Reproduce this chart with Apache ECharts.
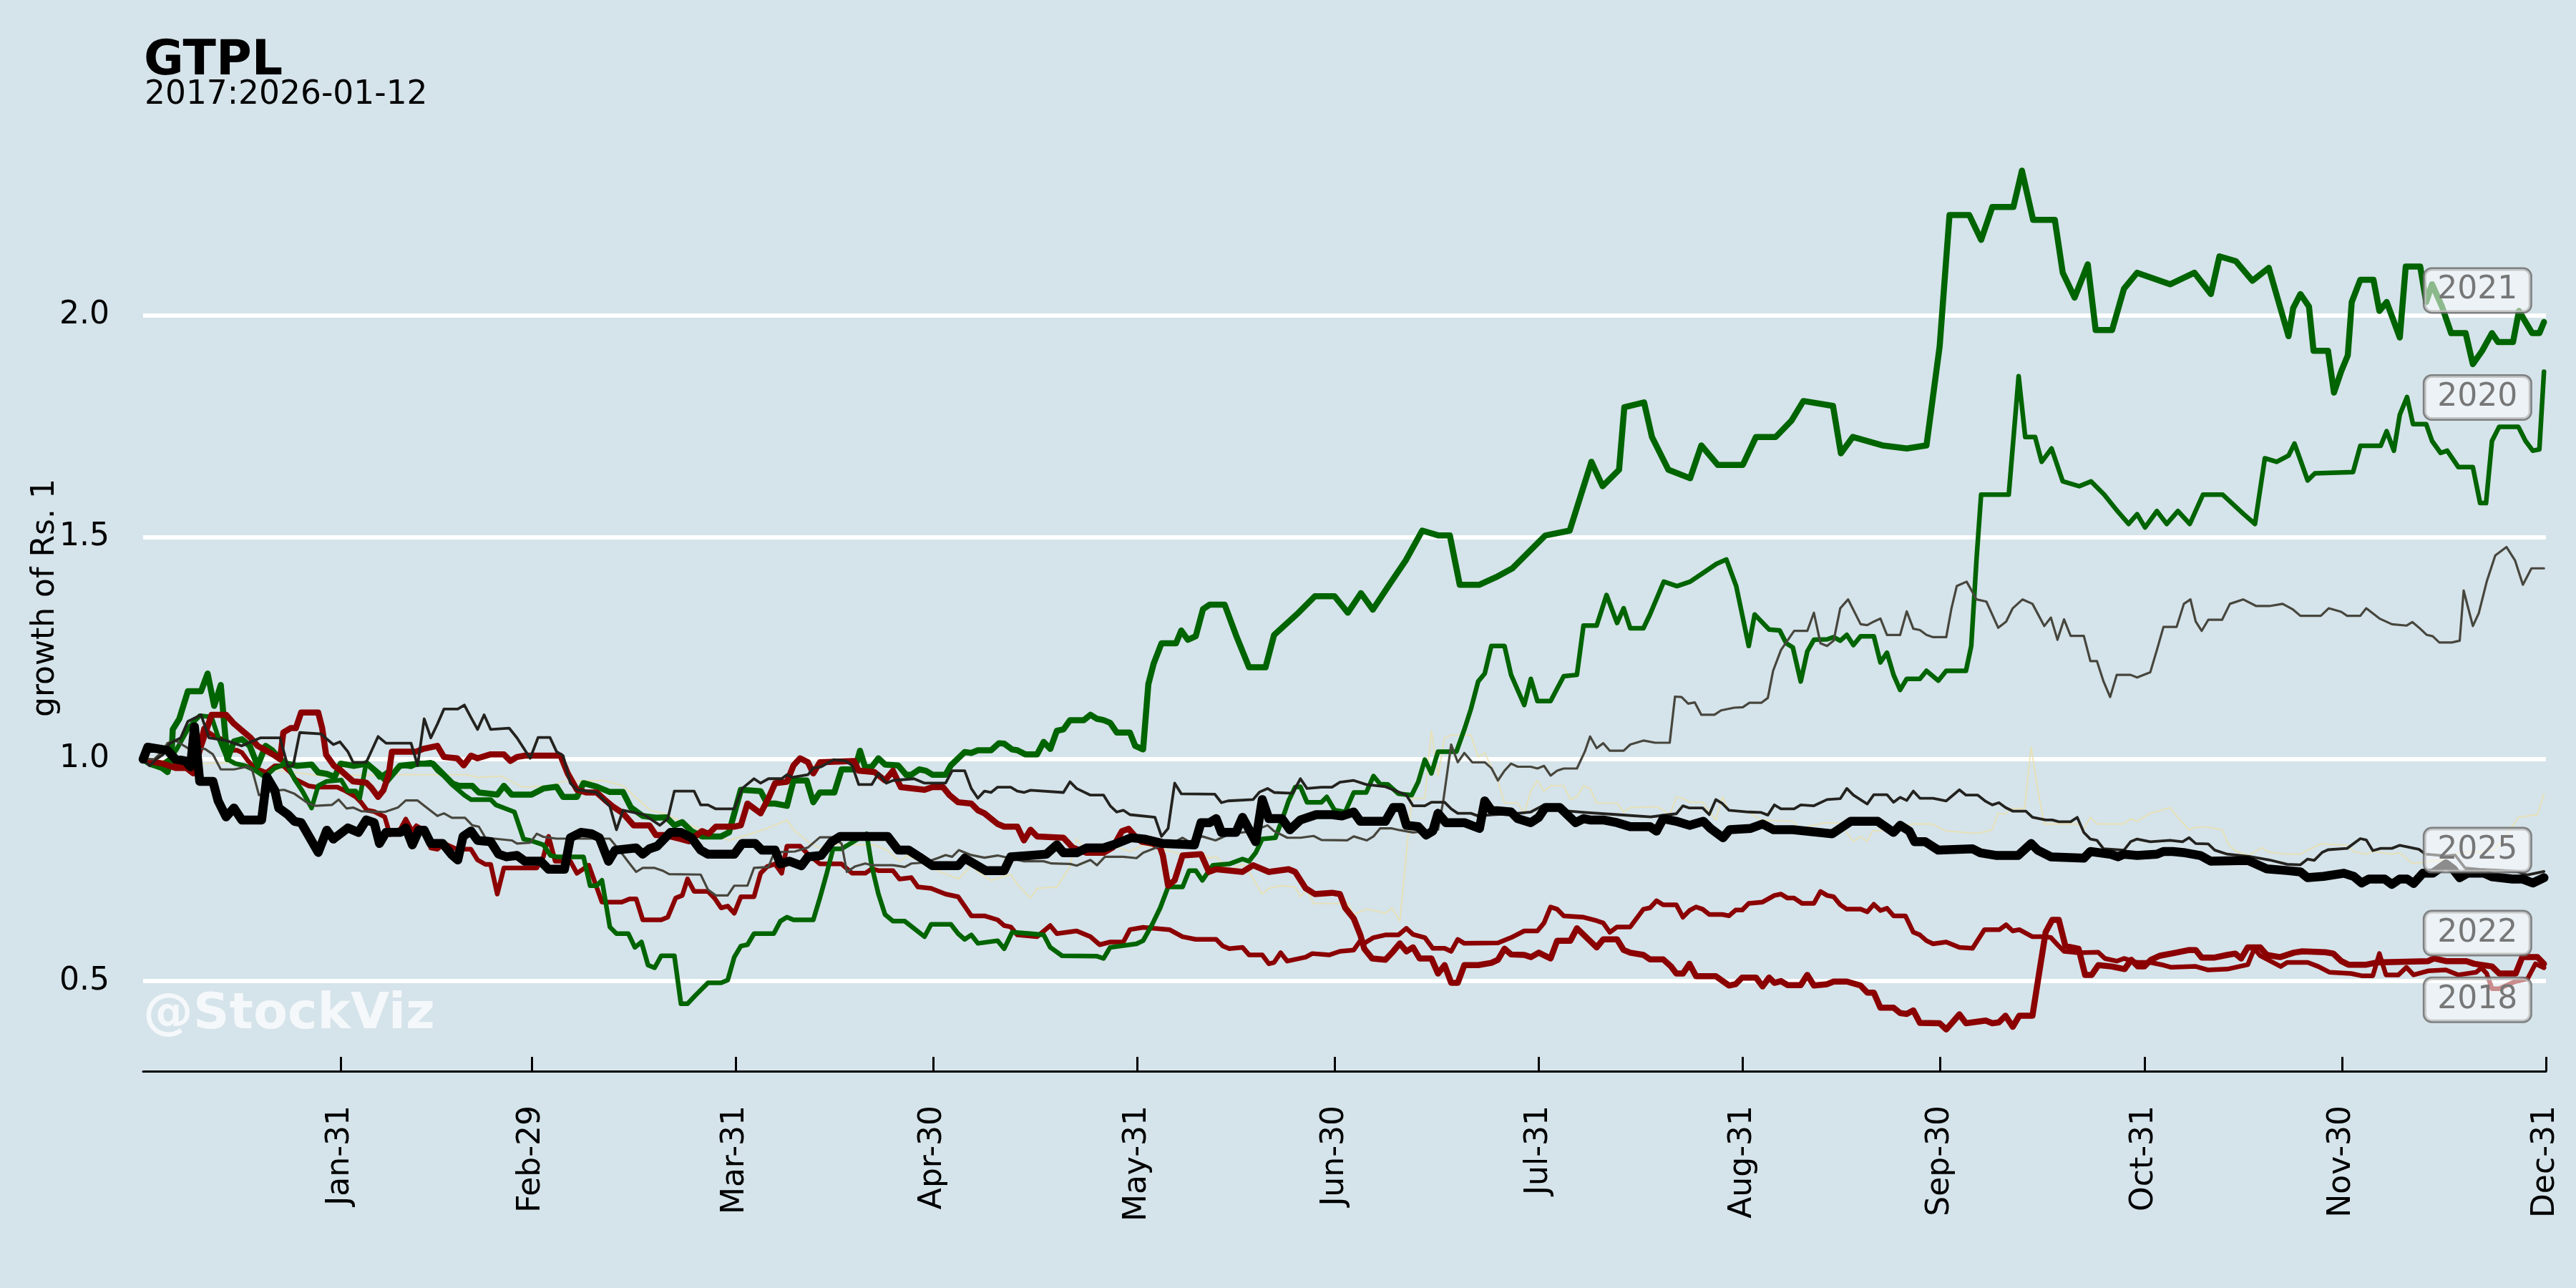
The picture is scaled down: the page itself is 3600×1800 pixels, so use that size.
<!DOCTYPE html>
<html><head><meta charset="utf-8">
<script src="https://cdn.jsdelivr.net/npm/echarts@6/dist/echarts.min.js"></script>
<style>html,body{margin:0;padding:0;background:#d5e3ea}#c{width:3600px;height:1800px}</style>
</head><body><div id="c"></div>
<script>
// ---------- DATA ----------
const monthEndDays = [31,60,91,121,152,182,213,244,274,305,335,366];
const monthLabels = ['Jan-31','Feb-29','Mar-31','Apr-30','May-31','Jun-30','Jul-31','Aug-31','Sep-30','Oct-31','Nov-30','Dec-31'];
const yTicks = [0.5,1.0,1.5,2.0];

const y2019 = [[1,1.0],[5,0.995],[10,0.99],[14.6,0.993],[18.4,0.974],[22.4,0.974],[28,0.962],[40,0.965],[50,0.965],[52,0.959],[55.4,0.962],[58.6,0.937],[62.9,0.94],[64.8,0.95],[70.9,0.952],[73.9,0.94],[78,0.885],[80,0.878],[85,0.845],[90,0.817],[94,0.835],[96.8,0.85],[98.8,0.863],[99.8,0.841],[102,0.814],[104,0.798],[106,0.807],[112,0.807],[114,0.795],[115.9,0.77],[117.1,0.783],[122.1,0.746],[124.9,0.73],[126.8,0.761],[127.8,0.746],[129.8,0.727],[132.8,0.74],[133.8,0.718],[135.8,0.687],[136.8,0.709],[139.8,0.712],[141.8,0.758],[142.8,0.82],[143.9,0.8],[145.9,0.795],[147.9,0.807],[150.9,0.792],[152.9,0.807],[155.9,0.798],[157.9,0.789],[159.9,0.783],[161.9,0.789],[163,0.777],[164,0.78],[166,0.749],[168,0.764],[169,0.746],[171,0.696],[172,0.709],[174,0.715],[176,0.712],[176.8,0.69],[177.8,0.706],[178.8,0.675],[184,0.675],[184.9,0.65],[186.8,0.662],[187.7,0.66],[189.7,0.653],[190.7,0.665],[191.9,0.635],[193.7,0.912],[195.7,0.912],[196.7,1.064],[197.7,0.962],[198.7,1.048],[199.7,1.054],[202.7,1.054],[203.8,1.005],[204.8,1.014],[206.8,0.952],[207.8,0.901],[209.8,0.901],[210.8,0.878],[211.8,0.928],[212.8,0.952],[213.8,0.928],[214.8,0.94],[216.8,0.94],[217.8,0.909],[218.8,0.915],[219.8,0.94],[220.8,0.934],[221.8,0.901],[224.9,0.901],[225.9,0.881],[226.9,0.891],[230.9,0.893],[231.9,0.885],[232.9,0.874],[233.9,0.915],[234.9,0.912],[235.9,0.903],[237.9,0.903],[238.9,0.881],[239.9,0.863],[240.9,0.915],[241.9,0.885],[244.9,0.881],[246.8,0.863],[251.6,0.86],[252.6,0.844],[256.6,0.857],[258.6,0.856],[260.8,0.815],[261.9,0.826],[262.9,0.815],[263.7,0.838],[265.7,0.84],[269.7,0.854],[272.7,0.854],[274.9,0.838],[279.7,0.833],[281.8,0.84],[282.8,0.878],[283.8,0.876],[284.8,0.889],[286.8,0.889],[287.8,1.027],[288.8,0.931],[289.8,0.854],[294.8,0.854],[295.8,0.844],[296.8,0.869],[297.8,0.854],[301.9,0.854],[302.9,0.866],[303.9,0.86],[305.9,0.878],[308.9,0.891],[309.9,0.872],[311.8,0.841],[312.8,0.847],[314.7,0.847],[316.8,0.841],[317.8,0.807],[319,0.792],[320.9,0.783],[322.8,0.801],[324,0.79],[326.7,0.786],[328.7,0.786],[329.8,0.795],[331.8,0.809],[335.8,0.806],[336.8,0.792],[338.7,0.786],[339.7,0.792],[342.6,0.786],[343.8,0.789],[345.7,0.765],[348.1,0.769],[350,0.773],[352.9,0.79],[355.8,0.79],[358.1,0.795],[359.7,0.823],[361.8,0.869],[364.7,0.875],[365.7,0.922]];

const y2018 = [[1,1.0],[3,0.99],[5,0.99],[7,0.985],[9,1.0],[10.2,1.07],[11,1.06],[12,1.05],[13,1.045],[14,1.02],[15.3,1.02],[16,1.015],[17,0.995],[18,0.98],[19.7,0.97],[21,0.985],[22.3,0.985],[23.4,0.97],[24.1,0.955],[26.1,0.94],[27.3,0.937],[30.5,0.937],[31.8,0.928],[33.3,0.915],[34.1,0.903],[35,0.885],[36.1,0.882],[37.7,0.87],[38.5,0.83],[40.1,0.843],[40.9,0.865],[41.9,0.837],[42.5,0.85],[43.7,0.84],[44.7,0.8],[45.7,0.797],[46.7,0.81],[48.7,0.797],[50.8,0.797],[51.8,0.773],[53,0.763],[53.8,0.763],[54.8,0.696],[55.8,0.755],[60.8,0.755],[61.8,0.78],[62.6,0.826],[63.6,0.77],[65.9,0.77],[66.9,0.743],[68.7,0.761],[70.7,0.678],[73.7,0.678],[74.9,0.685],[75.9,0.685],[76.9,0.638],[79.7,0.638],[80.7,0.644],[81.9,0.687],[82.9,0.693],[83.7,0.73],[84.7,0.702],[86.8,0.702],[87.8,0.687],[88.8,0.665],[89.8,0.669],[90.8,0.653],[91.8,0.69],[93.8,0.69],[94.8,0.743],[95.8,0.758],[97,0.764],[98,0.743],[98.8,0.804],[100.8,0.804],[102,0.786],[103.8,0.764],[107.1,0.764],[108.7,0.743],[110.7,0.743],[111.7,0.753],[112.7,0.749],[114.9,0.749],[115.9,0.73],[117.7,0.733],[118.7,0.712],[120.7,0.709],[122.9,0.696],[124.8,0.69],[125.8,0.669],[126.8,0.647],[128.8,0.647],[130.8,0.638],[131.8,0.625],[132.8,0.622],[133.8,0.604],[136.8,0.6],[138.8,0.625],[139.8,0.607],[142.8,0.613],[144.9,0.6],[146.3,0.582],[147.9,0.588],[149.9,0.588],[150.9,0.616],[152.9,0.621],[156.9,0.616],[158.9,0.6],[160.9,0.594],[164,0.594],[165,0.579],[166,0.573],[168,0.576],[169,0.559],[171,0.559],[172,0.539],[172.8,0.542],[173.8,0.564],[174.8,0.545],[177.6,0.554],[178.6,0.562],[181.2,0.559],[182.8,0.567],[184.9,0.57],[185.9,0.591],[186.5,0.585],[187.9,0.598],[189.7,0.604],[191.7,0.604],[192.9,0.619],[193.9,0.605],[195.7,0.598],[196.9,0.574],[198.7,0.574],[199.7,0.567],[200.7,0.594],[201.7,0.585],[206.8,0.586],[208.8,0.598],[210.8,0.613],[212.8,0.613],[213.8,0.631],[214.8,0.667],[215.8,0.662],[216.8,0.647],[219.8,0.644],[221.8,0.636],[222.8,0.631],[223.8,0.61],[224.9,0.622],[226.9,0.622],[228.9,0.662],[229.9,0.665],[230.9,0.681],[231.9,0.672],[233.9,0.672],[234.9,0.644],[235.9,0.659],[236.9,0.667],[237.9,0.662],[238.9,0.65],[240.9,0.65],[241.9,0.647],[242.9,0.66],[243.9,0.66],[244.9,0.675],[247,0.678],[248.8,0.693],[249.8,0.696],[250.8,0.687],[251.8,0.687],[253,0.675],[254.8,0.675],[255.8,0.702],[256.8,0.693],[257.8,0.69],[258.8,0.672],[259.8,0.662],[261.9,0.662],[262.9,0.656],[263.9,0.673],[264.9,0.659],[265.9,0.664],[266.9,0.647],[268.7,0.647],[269.9,0.61],[270.9,0.604],[271.9,0.591],[272.9,0.584],[274.9,0.588],[276.9,0.576],[278.9,0.574],[280.7,0.616],[283,0.616],[284,0.627],[285,0.613],[286,0.616],[288,0.6],[289.8,0.6],[290.8,0.598],[291.8,0.582],[292.8,0.567],[295,0.564],[298,0.565],[299,0.551],[300.8,0.545],[301.9,0.551],[303.9,0.542],[305.9,0.542],[307.9,0.536],[309.1,0.531],[312.8,0.533],[314.7,0.525],[317.6,0.527],[320.7,0.537],[321.7,0.573],[322.6,0.557],[325.7,0.533],[326.7,0.542],[329.8,0.542],[331.4,0.533],[333.1,0.52],[336.4,0.517],[338,0.512],[339.7,0.512],[340.7,0.562],[341.7,0.514],[343.6,0.514],[344.8,0.531],[345.9,0.514],[348.1,0.523],[350.8,0.525],[352.7,0.514],[355.4,0.52],[356.2,0.53],[357,0.517],[357.8,0.483],[358.9,0.483],[361.3,0.499],[363.2,0.505],[364.4,0.539],[365.7,0.53]];

const y2020 = [[1,1.0],[2,0.99],[4,0.99],[5,1.0],[6,1.02],[8,1.073],[9.6,1.098],[11.4,1.095],[12.4,1.05],[13.8,1.0],[15,0.99],[16.5,0.985],[18,0.975],[19.5,0.96],[21,0.98],[22.8,0.99],[24,0.955],[25.2,0.928],[26.6,0.89],[27.6,0.94],[28.9,0.95],[31.1,0.953],[32.1,0.928],[33.3,0.928],[33.9,0.912],[34.9,0.993],[36.1,0.974],[36.9,0.959],[38.1,0.971],[39.1,0.968],[40.1,0.986],[41.7,0.983],[42.7,0.99],[44.7,0.993],[45.7,0.974],[46.7,0.962],[47.9,0.943],[49.8,0.919],[50.8,0.909],[53.8,0.909],[54.6,0.897],[56.2,0.888],[57.4,0.881],[58.8,0.82],[59.8,0.817],[61.8,0.807],[62.9,0.783],[63.8,0.78],[67.9,0.78],[68.9,0.715],[69.9,0.715],[70.7,0.727],[71.9,0.622],[72.9,0.607],[74.7,0.607],[75.7,0.576],[76.7,0.588],[77.7,0.536],[78.7,0.53],[79.7,0.557],[81.7,0.557],[82.7,0.449],[83.7,0.449],[84.9,0.468],[86.8,0.496],[88.8,0.496],[89.8,0.502],[90.8,0.554],[91.8,0.579],[92.8,0.582],[93.8,0.607],[96.8,0.607],[97.8,0.635],[98.8,0.644],[99.8,0.638],[102.8,0.638],[103.8,0.687],[104.8,0.74],[105.8,0.798],[107.1,0.798],[110.9,0.832],[111.7,0.758],[112.7,0.696],[113.7,0.65],[114.9,0.635],[116.7,0.635],[119.7,0.6],[120.7,0.628],[123.7,0.628],[124.8,0.607],[125.8,0.594],[126.8,0.604],[127.8,0.585],[130.8,0.591],[131.8,0.573],[133,0.61],[135.8,0.607],[137.8,0.604],[138.8,0.576],[140.6,0.557],[145.9,0.556],[146.9,0.551],[147.9,0.576],[151.9,0.584],[152.9,0.591],[154.3,0.628],[155.5,0.665],[156.7,0.712],[158.9,0.712],[159.9,0.749],[160.9,0.749],[161.9,0.727],[163.5,0.761],[166,0.764],[168,0.775],[169,0.77],[170,0.789],[171,0.82],[173,0.823],[174,0.863],[175,0.906],[176,0.937],[176.8,0.938],[177.8,0.903],[180,0.903],[180.8,0.915],[182,0.885],[183.6,0.881],[184.9,0.925],[186.8,0.925],[187.9,0.962],[188.9,0.944],[190.1,0.943],[191.7,0.922],[193.7,0.919],[194.7,0.949],[195.7,0.999],[196.7,0.968],[197.7,1.017],[200.5,1.017],[201.7,1.067],[202.7,1.113],[203.8,1.175],[204.8,1.193],[205.8,1.255],[207.8,1.255],[208.8,1.19],[209.8,1.156],[210.8,1.122],[211.8,1.181],[212.8,1.131],[214.8,1.131],[215.8,1.159],[216.8,1.187],[218.8,1.19],[219.8,1.301],[221.8,1.301],[223.3,1.37],[224.9,1.307],[225.9,1.34],[226.9,1.295],[228.9,1.295],[229.9,1.326],[232,1.4],[234,1.39],[236,1.4],[238,1.42],[240,1.44],[241.5,1.45],[243,1.39],[244.9,1.255],[245.8,1.326],[248,1.292],[249.6,1.29],[250.6,1.261],[251.6,1.252],[252.8,1.175],[253.8,1.243],[254.8,1.269],[256.8,1.27],[257.8,1.275],[258.8,1.267],[259.8,1.28],[260.8,1.257],[261.9,1.277],[263.9,1.277],[264.9,1.218],[265.9,1.24],[266.9,1.19],[267.9,1.156],[268.9,1.181],[270.9,1.181],[271.9,1.199],[273.7,1.177],[274.9,1.199],[277.9,1.199],[278.7,1.255],[279.5,1.45],[280.2,1.596],[284.4,1.596],[285.9,1.863],[286.9,1.726],[288.4,1.726],[289.4,1.67],[290.9,1.7],[292.6,1.626],[295.1,1.615],[296.9,1.626],[298.9,1.596],[300.9,1.559],[302.6,1.53],[303.9,1.552],[305.1,1.522],[306.9,1.559],[308.4,1.53],[310.1,1.559],[311.9,1.53],[313.9,1.596],[316.9,1.596],[320.1,1.552],[321.8,1.53],[323.3,1.678],[325.1,1.67],[326.9,1.684],[327.8,1.711],[328.7,1.674],[329.8,1.628],[330.9,1.644],[336.7,1.647],[337.8,1.706],[340.9,1.706],[341.8,1.739],[342.9,1.695],[343.8,1.776],[344.9,1.816],[345.8,1.755],[347.8,1.755],[348.7,1.717],[350,1.69],[351,1.695],[352.7,1.658],[354.9,1.658],[356,1.577],[356.9,1.577],[357.8,1.717],[358.9,1.749],[361.8,1.749],[362.9,1.717],[364,1.695],[365,1.698],[365.7,1.873]];

const y2021 = [[1,1.0],[2,0.99],[3.9,0.98],[4.7,0.971],[5.3,1.0],[5.5,1.067],[6.5,1.091],[7.8,1.153],[9.8,1.153],[10.8,1.193],[11.8,1.12],[12.8,1.167],[13.8,1.0],[14.8,1.04],[16,1.045],[17.2,1.03],[18.4,0.985],[19.6,1.03],[20.6,1.02],[21.8,1.0],[22.8,0.99],[24.4,0.985],[26.6,0.988],[27.6,0.97],[28.9,0.967],[30.1,0.96],[31,0.99],[33,0.985],[35,0.99],[37,0.965],[38,0.95],[40,0.985],[43,0.99],[45,0.99],[46,0.975],[48,0.945],[49,0.94],[51,0.94],[52,0.925],[54.8,0.92],[55.8,0.94],[57,0.92],[60,0.92],[61.8,0.934],[63.8,0.938],[64.8,0.915],[66.9,0.915],[67.9,0.946],[69.9,0.938],[71.9,0.926],[73.9,0.926],[75.1,0.891],[76.9,0.872],[78.9,0.868],[80.5,0.869],[81.7,0.851],[82.9,0.858],[84.3,0.838],[85.9,0.826],[88.8,0.826],[90,0.835],[91.8,0.931],[94.8,0.928],[95.8,0.9],[97,0.9],[98.8,0.895],[99.8,0.952],[101.8,0.952],[102.8,0.903],[103.8,0.925],[106,0.925],[107.1,0.977],[109.1,0.977],[109.9,1.019],[110.7,0.981],[111.7,0.983],[112.7,1.002],[113.7,0.988],[115.7,0.986],[116.9,0.965],[117.7,0.965],[118.9,0.977],[119.9,0.974],[120.9,0.965],[122.9,0.965],[123.7,0.986],[125.8,1.016],[126.8,1.014],[127.8,1.02],[129.8,1.02],[131,1.036],[131.8,1.035],[133,1.022],[133.8,1.02],[135,1.011],[136.8,1.011],[137.8,1.039],[138.8,1.023],[139.8,1.064],[140.8,1.067],[141.8,1.088],[143.9,1.088],[144.9,1.1],[145.9,1.091],[146.9,1.088],[147.9,1.082],[148.9,1.06],[150.9,1.06],[151.7,1.03],[152.9,1.022],[153.7,1.169],[154.5,1.215],[155.7,1.261],[157.9,1.261],[158.7,1.29],[159.7,1.269],[160.9,1.277],[162,1.338],[163,1.348],[165.3,1.348],[167,1.28],[169,1.207],[171.5,1.207],[172.8,1.28],[176.5,1.33],[179,1.367],[182,1.367],[184,1.33],[186,1.374],[187.8,1.337],[190.3,1.393],[192.8,1.448],[195.3,1.515],[197.8,1.504],[199.5,1.504],[201,1.393],[204,1.393],[206.5,1.41],[209,1.43],[211.5,1.467],[214,1.504],[217.7,1.515],[221,1.67],[222.7,1.615],[225.2,1.652],[226,1.793],[229,1.804],[230.2,1.726],[232.7,1.652],[236,1.633],[237.7,1.707],[240.2,1.663],[244,1.663],[246,1.726],[249,1.726],[251.4,1.763],[253.2,1.807],[257.7,1.796],[258.9,1.689],[260.7,1.726],[265.2,1.707],[268.9,1.7],[271.9,1.707],[273.9,1.93],[275.4,2.226],[278.4,2.226],[280.2,2.17],[281.9,2.244],[285.1,2.244],[286.4,2.326],[288.1,2.215],[291.4,2.215],[292.6,2.096],[294.4,2.04],[296.4,2.115],[297.6,1.967],[300.1,1.967],[301.9,2.06],[303.9,2.096],[308.9,2.07],[312.6,2.096],[315.1,2.048],[316.4,2.133],[318.9,2.122],[321.4,2.078],[323.9,2.107],[326.9,1.953],[327.6,2.016],[328.7,2.048],[330,2.02],[330.7,1.92],[332.9,1.92],[333.8,1.826],[334.9,1.874],[335.9,1.91],[336.5,2.03],[337.8,2.08],[339.8,2.08],[340.7,2.01],[341.8,2.03],[343.8,1.95],[344.7,2.11],[346.9,2.11],[347.8,2.03],[348.7,2.07],[350.2,2.02],[351.6,1.96],[353.8,1.96],[354.9,1.89],[356.3,1.92],[357.8,1.96],[358.7,1.94],[361,1.94],[361.9,2.01],[363.9,1.96],[365,1.96],[365.7,1.985]];

const y2022 = [[1,1.0],[2,0.995],[4,0.99],[6,0.98],[7.6,0.98],[8.6,0.968],[9.8,1.03],[11.4,1.1],[13.6,1.1],[14.8,1.08],[16,1.065],[17.2,1.05],[18.4,1.03],[19.6,1.02],[20.8,1.01],[21.8,1.0],[22.3,1.06],[23.4,1.07],[24.2,1.07],[25,1.105],[27.6,1.105],[28.2,1.07],[28.8,1.01],[30,0.985],[31,0.975],[32.9,0.95],[34.9,0.947],[35.7,0.935],[36.7,0.915],[37.5,0.93],[38.3,0.965],[38.8,1.017],[42.5,1.017],[43.5,1.023],[45.7,1.03],[46.7,1.005],[48.7,1.002],[49.7,0.986],[50.8,1.008],[51.8,1.002],[53.8,1.011],[55.8,1.011],[56.8,0.996],[57.8,1.005],[59,1.008],[64.4,1.008],[65.5,0.968],[66.9,0.931],[68.3,0.925],[69.9,0.925],[71.1,0.909],[72.3,0.894],[73.9,0.878],[75.5,0.851],[77.9,0.851],[78.9,0.829],[80.3,0.829],[82.7,0.82],[83.9,0.815],[85.9,0.838],[86.9,0.832],[88,0.848],[90.8,0.848],[91.8,0.851],[92.8,0.9],[94.8,0.878],[96,0.912],[97,0.946],[98.8,0.949],[99.8,0.986],[100.8,1.002],[102,0.993],[102.8,0.968],[103.8,0.993],[109,0.996],[109.7,0.974],[112.1,0.971],[113.7,0.952],[114.9,0.974],[116.1,0.937],[119.7,0.931],[120.9,0.937],[122.5,0.937],[123.5,0.919],[124.8,0.903],[126.8,0.9],[127.8,0.885],[128.8,0.878],[130.8,0.854],[131.8,0.848],[133.8,0.848],[134.8,0.817],[135.8,0.841],[136.8,0.826],[140.8,0.823],[142.2,0.801],[144.3,0.789],[146.9,0.789],[148.3,0.801],[149.7,0.838],[150.7,0.843],[151.9,0.823],[152.7,0.814],[154.3,0.81],[155.5,0.801],[155.9,0.783],[156.7,0.715],[157.7,0.727],[158.9,0.783],[161.7,0.786],[162.9,0.746],[164,0.752],[168,0.746],[169.6,0.761],[172,0.746],[175,0.752],[176,0.746],[177.6,0.709],[179,0.696],[181.6,0.699],[182.8,0.696],[183.6,0.665],[184.9,0.641],[185.9,0.604],[186.5,0.573],[187.7,0.551],[189.7,0.548],[190.9,0.567],[191.9,0.585],[192.9,0.567],[193.9,0.576],[194.9,0.551],[196.7,0.551],[197.7,0.517],[198.7,0.536],[199.7,0.496],[200.7,0.496],[201.7,0.536],[203.8,0.536],[205.8,0.541],[206.8,0.548],[207.8,0.573],[208.8,0.56],[210.8,0.559],[211.8,0.554],[213,0.564],[214.8,0.551],[215.8,0.591],[217.8,0.591],[218.8,0.619],[221.8,0.576],[222.8,0.594],[224.9,0.594],[225.9,0.57],[226.9,0.564],[228.9,0.559],[229.9,0.549],[231.9,0.549],[233.1,0.533],[233.9,0.517],[234.9,0.517],[235.9,0.539],[236.9,0.511],[239.9,0.511],[241.9,0.49],[242.9,0.493],[243.9,0.508],[246,0.508],[247,0.488],[248,0.508],[248.8,0.496],[249.8,0.5],[250.8,0.491],[252.8,0.491],[253.8,0.514],[254.8,0.49],[256.8,0.493],[257.8,0.499],[259.8,0.499],[261.9,0.49],[262.9,0.474],[263.9,0.474],[264.9,0.44],[266.9,0.44],[267.9,0.428],[268.9,0.426],[269.9,0.434],[270.9,0.406],[273.9,0.405],[274.9,0.391],[276.9,0.425],[277.9,0.405],[280.9,0.411],[281.9,0.405],[282.9,0.407],[283.9,0.422],[285,0.397],[286,0.422],[288,0.422],[289,0.517],[290,0.61],[291,0.638],[292,0.638],[293,0.579],[295,0.573],[296,0.514],[297,0.514],[298,0.536],[300,0.533],[302,0.527],[303,0.548],[304,0.533],[305,0.533],[306,0.548],[307.3,0.557],[309.8,0.564],[311.8,0.57],[312.8,0.57],[313.7,0.553],[315.7,0.553],[317.6,0.559],[318.8,0.562],[319.7,0.551],[320.7,0.576],[322.6,0.576],[323.6,0.559],[325.6,0.554],[327.7,0.564],[329,0.567],[332.5,0.565],[333.7,0.562],[334.9,0.545],[336,0.537],[338.7,0.537],[340.3,0.542],[348.1,0.545],[349,0.551],[350.8,0.545],[353.9,0.545],[355.1,0.539],[357.8,0.533],[358.9,0.517],[361.4,0.517],[362.4,0.554],[364.7,0.554],[365.7,0.539]];

const y2023 = [[1,1.0],[2.7,1.0],[3.9,1.017],[4.7,1.036],[5.9,1.042],[8,1.023],[10.4,1.023],[11.6,1.011],[12.8,0.977],[14.8,0.977],[16.8,0.983],[17.6,0.974],[18.6,0.919],[20.4,0.928],[22.4,0.931],[24,0.922],[26.1,0.9],[27.2,0.895],[29.7,0.897],[30.7,0.909],[31.9,0.889],[32.9,0.891],[34.1,0.883],[37.7,0.881],[39.7,0.891],[40.9,0.907],[42.7,0.907],[43.7,0.895],[45.7,0.872],[46.7,0.878],[47.9,0.868],[49.9,0.868],[51,0.851],[52,0.848],[53,0.823],[57,0.817],[57.8,0.81],[59.8,0.812],[60.8,0.832],[61.8,0.825],[63.8,0.821],[71.9,0.821],[73.5,0.792],[75.1,0.761],[75.9,0.746],[76.9,0.755],[78.7,0.755],[79.9,0.749],[80.9,0.741],[85.7,0.74],[86.8,0.706],[88,0.693],[89.8,0.693],[90.8,0.715],[92.8,0.715],[93.8,0.755],[96,0.757],[96.6,0.78],[97,0.79],[100,0.792],[102,0.801],[103.8,0.824],[105.6,0.824],[107.1,0.81],[107.9,0.746],[109.1,0.758],[110.7,0.765],[111.7,0.761],[114.9,0.761],[116.7,0.757],[117.7,0.765],[119.7,0.767],[121.7,0.777],[122.9,0.784],[123.9,0.78],[124.9,0.795],[126.8,0.784],[128.8,0.778],[130.8,0.783],[134.8,0.77],[137.8,0.77],[139,0.765],[141.8,0.764],[142.8,0.76],[144.9,0.773],[145.9,0.761],[147.1,0.78],[149.9,0.78],[151.9,0.777],[152.9,0.789],[154.9,0.801],[157.9,0.815],[158.9,0.823],[159.9,0.814],[161.9,0.826],[163.9,0.817],[166,0.831],[169.6,0.838],[171.8,0.851],[172.8,0.838],[174.8,0.823],[176.8,0.823],[178.8,0.827],[180,0.818],[183.9,0.817],[184.9,0.826],[186.9,0.817],[187.9,0.826],[188.9,0.844],[190.7,0.844],[191.9,0.84],[193.9,0.835],[197.7,0.841],[198.5,0.906],[199.7,1.033],[200.7,0.993],[201.7,1.014],[202.9,0.993],[204.8,0.993],[205.8,0.98],[206.8,0.952],[207.8,0.974],[208.8,0.99],[209.8,0.983],[211.8,0.983],[212.8,0.979],[213.8,0.985],[214.8,0.963],[215.8,0.974],[216.8,0.979],[218.8,0.979],[220,1.017],[220.8,1.051],[221.8,1.025],[222.8,1.036],[223.8,1.019],[225.9,1.019],[226.9,1.033],[228.9,1.042],[230.7,1.037],[232.9,1.037],[233.7,1.141],[234.7,1.14],[235.7,1.125],[236.7,1.128],[237.7,1.1],[239.7,1.1],[240.7,1.11],[242.7,1.116],[244,1.117],[245,1.127],[246.8,1.127],[247.8,1.138],[248.6,1.199],[249.8,1.246],[251.8,1.289],[253.8,1.289],[254.8,1.33],[255.8,1.261],[256.8,1.255],[257.8,1.267],[258.8,1.34],[260,1.36],[261.9,1.304],[262.9,1.302],[263.9,1.31],[264.9,1.317],[265.9,1.28],[267.9,1.28],[268.9,1.333],[269.9,1.294],[270.9,1.291],[271.9,1.28],[272.9,1.275],[274.9,1.275],[275.7,1.34],[276.5,1.39],[278,1.4],[279.5,1.36],[281,1.355],[282.8,1.296],[284,1.31],[285,1.34],[286.5,1.36],[288,1.35],[289.8,1.3],[290.8,1.319],[291.8,1.269],[292.8,1.315],[293.8,1.278],[295.8,1.278],[296.8,1.221],[297.8,1.221],[298.8,1.175],[299.8,1.14],[300.8,1.19],[302.9,1.19],[303.9,1.184],[305.9,1.196],[306.9,1.246],[307.9,1.298],[309.9,1.298],[311,1.35],[312,1.36],[312.8,1.31],[313.7,1.289],[314.7,1.314],[316.8,1.314],[318,1.35],[320,1.36],[322,1.345],[324,1.345],[326,1.35],[327.5,1.338],[328.7,1.323],[331.8,1.323],[333,1.34],[334.9,1.332],[335.8,1.323],[337.8,1.323],[338.7,1.34],[340.7,1.317],[342.6,1.304],[344.8,1.301],[345.7,1.309],[346.9,1.294],[347.9,1.28],[348.8,1.277],[349.8,1.263],[351.7,1.263],[352.9,1.267],[353.5,1.38],[354.9,1.3],[355.8,1.329],[357,1.4],[358.3,1.459],[360,1.478],[361.3,1.448],[362.5,1.393],[363.8,1.43],[365.7,1.43]];

const y2024 = [[1,1.0],[2,0.985],[3,1.0],[4,1.01],[5,1.035],[6.7,1.048],[7.8,1.085],[9.8,1.1],[11,1.048],[13.6,1.042],[16,1.03],[18.8,1.048],[21.8,1.048],[23,0.983],[23.8,0.986],[24.8,1.06],[28,1.057],[29.9,1.033],[30.9,1.039],[32.1,1.017],[32.9,0.993],[34.9,0.993],[36.7,1.051],[37.9,1.036],[41.7,1.036],[42.7,0.986],[43.7,1.091],[44.7,1.048],[45.7,1.079],[46.7,1.113],[48.8,1.113],[49.8,1.122],[50.8,1.094],[51.8,1.067],[52.8,1.1],[53.8,1.067],[56.6,1.07],[57.8,1.048],[59.8,1.002],[61,1.049],[62.8,1.049],[63.8,1.017],[64.8,1.008],[65.9,0.946],[66.9,0.931],[69.9,0.925],[71.9,0.894],[72.9,0.841],[73.9,0.885],[77.1,0.875],[79.5,0.851],[80.7,0.866],[81.7,0.928],[84.7,0.928],[85.7,0.897],[86.8,0.897],[88,0.888],[90.8,0.888],[92,0.934],[93.8,0.956],[94.8,0.946],[96,0.956],[98,0.956],[98.8,0.965],[99.6,0.959],[102,0.965],[102.8,0.98],[104,0.983],[105.9,0.999],[107.7,0.996],[108.7,0.986],[109.7,0.943],[111.7,0.943],[112.7,0.968],[113.9,0.946],[114.9,0.952],[118.1,0.956],[119.7,0.946],[122.9,0.946],[123.9,0.974],[125.8,0.974],[126.8,0.934],[127.8,0.912],[128.8,0.928],[129.8,0.925],[130.8,0.937],[132.8,0.937],[133.8,0.928],[134.8,0.925],[135.8,0.93],[140.8,0.925],[141.8,0.949],[142.8,0.934],[144.9,0.919],[146.9,0.919],[147.9,0.895],[148.9,0.881],[149.9,0.885],[150.9,0.875],[154.7,0.869],[155.7,0.826],[156.7,0.844],[157.7,0.946],[158.7,0.922],[163.8,0.921],[164.8,0.902],[165.8,0.906],[169.6,0.909],[170.6,0.926],[171.8,0.934],[172.8,0.925],[175.6,0.923],[176.8,0.956],[177.8,0.934],[180,0.937],[181.6,0.937],[182.8,0.948],[184.9,0.952],[186.8,0.943],[189.7,0.938],[190.9,0.931],[192.9,0.919],[193.9,0.895],[195.7,0.895],[196.7,0.903],[198.7,0.903],[199.7,0.888],[200.7,0.878],[202.7,0.878],[203.8,0.872],[206,0.875],[209.8,0.878],[211.8,0.881],[213.8,0.897],[216,0.885],[220,0.88],[225,0.875],[230,0.87],[232.7,0.875],[233.9,0.877],[234.9,0.895],[235.9,0.89],[237.9,0.89],[238.9,0.875],[239.9,0.909],[240.9,0.9],[241.9,0.885],[244.9,0.881],[246.8,0.88],[247.8,0.874],[248.8,0.897],[249.8,0.888],[251.8,0.888],[252.8,0.897],[254.8,0.895],[256.8,0.909],[258.8,0.911],[259.8,0.934],[260.8,0.919],[262.9,0.899],[263.9,0.92],[265.9,0.92],[266.9,0.903],[267.9,0.914],[268.9,0.907],[269.9,0.928],[270.9,0.912],[272.9,0.912],[274.9,0.906],[276.9,0.931],[277.9,0.919],[279.7,0.919],[280.9,0.905],[281.9,0.897],[282.9,0.902],[283.9,0.891],[285,0.883],[287,0.883],[288,0.869],[290,0.863],[291,0.863],[292,0.859],[293.8,0.859],[294.8,0.869],[295.8,0.835],[296.8,0.82],[297.8,0.817],[298.8,0.798],[301.9,0.795],[302.9,0.814],[303.9,0.82],[305.9,0.814],[308.9,0.817],[310.8,0.814],[311.8,0.823],[312.8,0.81],[314.7,0.809],[315.7,0.795],[317.6,0.786],[320.9,0.781],[324,0.773],[326.7,0.763],[328.7,0.762],[329.8,0.775],[330.8,0.772],[332,0.79],[332.9,0.796],[335.8,0.799],[337.8,0.821],[338.7,0.818],[339.7,0.794],[340.9,0.799],[342.6,0.799],[343.8,0.806],[346.7,0.797],[347.7,0.786],[350.8,0.782],[352.2,0.784],[353.7,0.755],[355.9,0.752],[358.8,0.75],[361.6,0.747],[363.1,0.739],[365.7,0.747]];

const y2025 = [[1,1.0],[1.7,1.027],[4.7,1.02],[5.9,1.0],[7.4,0.996],[8.2,0.983],[8.8,1.073],[9.6,0.95],[11.6,0.95],[12.4,0.906],[13.6,0.87],[14.8,0.89],[16,0.863],[19,0.863],[19.8,0.96],[21,0.93],[21.6,0.89],[23,0.875],[24,0.86],[25,0.857],[27.6,0.79],[28.9,0.84],[29.9,0.82],[32.1,0.845],[33.7,0.835],[34.9,0.863],[36.1,0.857],[36.9,0.81],[37.9,0.835],[40.1,0.835],[40.9,0.845],[41.9,0.807],[42.9,0.84],[43.7,0.84],[44.7,0.81],[46.5,0.81],[47.8,0.786],[48.8,0.773],[49.6,0.826],[50.8,0.838],[51.8,0.817],[53.8,0.814],[55,0.786],[56.2,0.78],[57.8,0.783],[59,0.77],[61.4,0.77],[62.6,0.752],[65,0.752],[65.9,0.823],[67.5,0.835],[69.1,0.832],[70.3,0.823],[71.7,0.77],[72.7,0.795],[75.9,0.8],[76.9,0.786],[77.9,0.798],[79.1,0.804],[81.1,0.835],[82.7,0.835],[84.3,0.823],[85.7,0.795],[86.8,0.786],[90.8,0.786],[92,0.81],[94,0.81],[95,0.795],[97,0.795],[97.8,0.764],[99.2,0.77],[101,0.76],[102,0.78],[104,0.783],[105.6,0.814],[106.9,0.826],[114.1,0.826],[115.7,0.795],[117.3,0.795],[118.9,0.78],[120.9,0.76],[124.8,0.76],[125.8,0.777],[129,0.749],[131.8,0.749],[132.8,0.78],[135.8,0.783],[138.2,0.786],[139.8,0.807],[140.8,0.789],[142.8,0.789],[144.3,0.8],[146.9,0.8],[148.9,0.81],[151.1,0.823],[153.1,0.82],[155.9,0.81],[160.7,0.807],[161.7,0.857],[163,0.857],[164,0.866],[164.8,0.835],[167,0.835],[168,0.869],[170,0.814],[171,0.909],[172,0.866],[174,0.866],[175.2,0.841],[176.8,0.863],[179.2,0.875],[181.6,0.875],[183.1,0.872],[184.9,0.881],[185.9,0.86],[189.7,0.86],[190.9,0.891],[192.1,0.891],[192.9,0.851],[194.7,0.848],[195.9,0.829],[196.9,0.838],[197.7,0.878],[198.9,0.857],[201.7,0.857],[204,0.844],[204.8,0.906],[205.8,0.885],[208.8,0.881],[209.8,0.866],[211.8,0.857],[213,0.869],[214,0.891],[216.2,0.891],[218.6,0.857],[219.8,0.866],[220.8,0.863],[222.8,0.863],[224.9,0.857],[226.9,0.848],[229.9,0.848],[230.9,0.838],[231.9,0.866],[233.9,0.86],[235.9,0.851],[238,0.86],[239.1,0.844],[241,0.823],[242,0.841],[245.2,0.844],[247,0.854],[248.7,0.841],[251.6,0.841],[257.6,0.832],[260.4,0.86],[264.5,0.86],[266.9,0.835],[267.9,0.851],[269.3,0.838],[270.1,0.814],[271.7,0.814],[273.7,0.795],[278.9,0.798],[280.1,0.789],[282.6,0.783],[285.8,0.783],[287.8,0.81],[288.8,0.795],[290.8,0.78],[295.8,0.777],[296.8,0.792],[299.8,0.786],[301,0.78],[301.9,0.786],[303.9,0.783],[306.9,0.786],[307.9,0.792],[309.3,0.792],[311.2,0.789],[313.5,0.783],[315.1,0.77],[320.7,0.772],[323.6,0.753],[326.7,0.749],[328.7,0.746],[329.8,0.733],[332.2,0.736],[335.3,0.743],[336.8,0.736],[338,0.721],[339.1,0.73],[341.5,0.73],[342.6,0.718],[343.8,0.73],[344.9,0.73],[345.9,0.72],[347.3,0.743],[348.8,0.743],[350.8,0.764],[351.9,0.752],[352.9,0.733],[354.1,0.743],[356.6,0.743],[357.8,0.735],[360.9,0.73],[362.4,0.73],[364,0.721],[365.7,0.733]];

const labelYears = ['2021','2020','2025','2022','2018'];
const labelValues = [2.056, 1.815, 0.795, 0.608, 0.458];
const labelDay = 355.6;

// ---------- STYLE ----------
const FONT = '"DejaVu Sans", "Liberation Sans", sans-serif';
const seriesList = [
  {name:'2019', data:y2019, color:'rgba(236,224,165,0.8)', width:1.8},
  {name:'2018', data:y2018, color:'#8b0000', width:6.5},
  {name:'2020', data:y2020, color:'#006400', width:6.5},
  {name:'2021', data:y2021, color:'#006400', width:8.5},
  {name:'2022', data:y2022, color:'#8b0000', width:8.5},
  {name:'2023', data:y2023, color:'#47463d', width:3.2},
  {name:'2024', data:y2024, color:'#23221e', width:3.8},
  {name:'2025', data:y2025, color:'#000000', width:12.5}
];

const series = seriesList.map((s) => ({
  name: s.name, type: 'line', data: s.data, showSymbol: false, symbol: 'none',
  z: 3, silent: true,
  lineStyle: {color: s.color, width: s.width, join: 'round', cap: 'round'}
}));

// white gridlines
series.push({
  type: 'line', data: [], silent: true, z: 1,
  markLine: {
    z: 1, silent: true, symbol: ['none','none'], animation: false,
    label: {show: false},
    lineStyle: {color: '#ffffff', width: 6, type: 'solid'},
    emphasis: {disabled: true},
    data: yTicks.map(v => ({yAxis: v}))
  }
});

// year labels
series.push({
  type: 'scatter', z: 10, silent: true,
  symbol: 'circle', symbolSize: 2, itemStyle: {color: 'rgba(0,0,0,0)'},
  data: labelValues.map(v => [labelDay, v]),
  labelLayout: {hideOverlap: false},
  label: {
    show: true, position: 'inside', opacity: 1,
    formatter: p => labelYears[p.dataIndex],
    fontFamily: FONT, fontSize: 44, color: '#777777',
    backgroundColor: 'rgba(255,255,255,0.55)',
    borderColor: 'rgba(110,110,110,0.85)', borderWidth: 2.5, borderRadius: 10,
    padding: [9, 18, 7, 18]
  }
});

const chart = echarts.init(document.getElementById('c'), null, {renderer: 'canvas', width: 3600, height: 1800});
chart.setOption({
  backgroundColor: '#d5e3ea',
  animation: false,
  title: [
    {text: 'GTPL', left: 196, top: 47, textStyle: {fontFamily: FONT, fontSize: 68, fontWeight: 'bold', color: '#000'}},
    {text: '2017:2026-01-12', left: 197, top: 105, textStyle: {fontFamily: FONT, fontSize: 45.5, fontWeight: 'normal', color: '#000'}}
  ],
  grid: {left: 200, right: 42, top: 174, bottom: 303, containLabel: false},
  xAxis: {
    type: 'value', min: 1, max: 366,
    axisLine: {show: true, onZero: false, lineStyle: {color: '#000', width: 3}},
    axisTick: {show: true, inside: true, length: 20, customValues: monthEndDays, lineStyle: {color: '#000', width: 3}},
    axisLabel: {
      show: true, customValues: monthEndDays, rotate: 90, margin: 48,
      fontFamily: FONT, fontSize: 44, color: '#000',
      formatter: v => monthLabels[monthEndDays.indexOf(v)]
    },
    splitLine: {show: false}
  },
  yAxis: {
    type: 'value', min: 0.297, max: 2.43,
    name: 'growth of Rs. 1', nameLocation: 'middle', nameGap: 114, nameMoveOverlap: false,
    nameTextStyle: {fontFamily: FONT, fontSize: 44, color: '#000'},
    axisLine: {show: false}, axisTick: {show: false},
    axisLabel: {show: true, customValues: yTicks, margin: 47, fontFamily: FONT, fontSize: 44, color: '#000',
      formatter: v => v.toFixed(1)},
    splitLine: {show: false}
  },
  graphic: [{
    type: 'text', left: 200, top: 1384, z: 0, silent: true,
    style: {text: '@StockViz', font: 'bold 70px ' + FONT, fill: 'rgba(255,255,255,0.75)'}
  }],
  series: series
});
</script>
</body></html>
